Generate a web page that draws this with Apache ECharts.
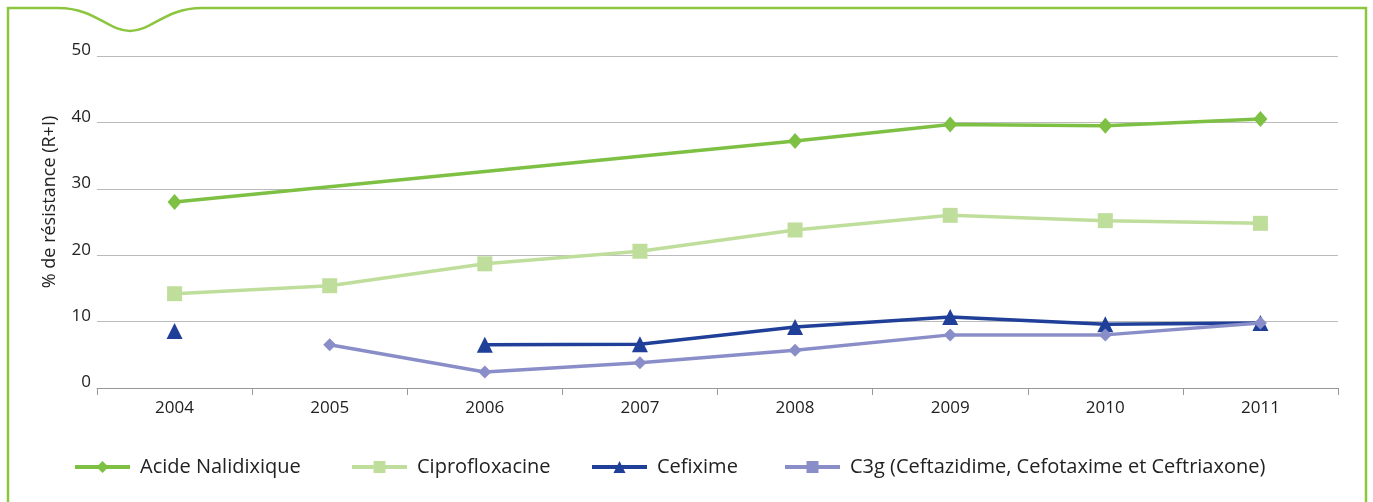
<!DOCTYPE html>
<html>
<head>
<meta charset="utf-8">
<script src="https://cdn.jsdelivr.net/npm/echarts@6/dist/echarts.min.js"></script>
<style>
html,body{margin:0;padding:0;background:#fff;}
#main{width:1373px;height:502px;}
</style>
</head>
<body>
<div id="main"></div>
<script>
var years = ['2004', '2005', '2006', '2007', '2008', '2009', '2010', '2011'];
var acideNalidixique = [28.0, null, null, null, 37.2, 39.7, 39.5, 40.5];
var ciprofloxacine = [14.2, 15.4, 18.7, 20.6, 23.8, 26.0, 25.2, 24.8];
var cefixime = [8.6, null, 6.5, 6.6, 9.2, 10.7, 9.6, 9.8];
var c3g = [null, 6.5, 2.4, 3.8, 5.7, 8.0, 8.0, 9.8];

var names = ['Acide Nalidixique', 'Ciprofloxacine', 'Cefixime', 'C3g (Ceftazidime, Cefotaxime et Ceftriaxone)'];
var legendLeft = [73, 350, 590, 783];

var dom = document.getElementById('main');
var myChart = echarts.init(dom);
var font = 'Open Sans';
var frameStyle = { fill: null, stroke: '#8cc63f', lineWidth: 2.5 };

// une legende par serie pour garder les positions
var legends = names.map(function (n, i) {
    return {
        left: legendLeft[i],
        top: 457,
        padding: 0,
        itemWidth: 55,
        itemHeight: 15,
        lineStyle: { width: 4 },
        textStyle: { fontSize: 20, color: '#222', fontFamily: font, padding: [0, 0, 0, 5] },
        data: [n]
    };
});

option = {
    animation: false,
    textStyle: { fontFamily: font },
    // cadre vert avec la vague en haut a gauche
    graphic: [
        { type: 'polyline', shape: { points: [[8, 520], [8, 8], [58, 8]] }, style: frameStyle },
        { type: 'bezierCurve', shape: { x1: 58, y1: 8, cpx1: 95, cpy1: 8, cpx2: 108, cpy2: 31, x2: 130, y2: 31 }, style: frameStyle },
        { type: 'bezierCurve', shape: { x1: 130, y1: 31, cpx1: 152, cpy1: 31, cpx2: 165, cpy2: 8, x2: 202, y2: 8 }, style: frameStyle },
        { type: 'polyline', shape: { points: [[202, 8], [1366, 8], [1366, 520]] }, style: frameStyle }
    ],
    grid: { left: 97, right: 35, top: 56, bottom: 114 },
    legend: legends,
    xAxis: {
        type: 'category',
        data: years,
        boundaryGap: true,
        axisLine: { lineStyle: { color: '#999' } },
        axisTick: { show: true, length: 7, lineStyle: { color: '#999' } },
        axisLabel: { color: '#222', fontSize: 17, margin: 12 }
    },
    yAxis: {
        type: 'value',
        min: 0,
        max: 50,
        interval: 10,
        name: '% de résistance (R+I)',
        nameLocation: 'middle',
        nameGap: 38,
        nameTextStyle: { fontSize: 18, color: '#222', padding: [0, 0, 0, 40] },
        axisLine: { show: false },
        axisTick: { show: false },
        axisLabel: { color: '#222', fontSize: 17, margin: 6, verticalAlign: 'bottom', lineHeight: 11 },
        splitLine: { lineStyle: { color: '#bbbbbb', width: 1.2 } }
    },
    series: [
        {
            name: names[0],
            type: 'line',
            data: acideNalidixique,
            connectNulls: true,
            symbol: 'diamond',
            symbolSize: [14, 16],
            color: '#7dc043',
            lineStyle: { width: 3.5 }
        },
        {
            name: names[1],
            type: 'line',
            data: ciprofloxacine,
            symbol: 'rect',
            symbolSize: 15,
            color: '#bfde9c',
            lineStyle: { width: 3.5 }
        },
        {
            name: names[2],
            type: 'line',
            data: cefixime,
            connectNulls: false,
            symbol: 'triangle',
            symbolSize: 16,
            color: '#1f3f98',
            lineStyle: { width: 3.5 }
        },
        {
            // carre dans la legende, losanges sur la courbe
            name: names[3],
            type: 'line',
            data: c3g.map(function (v) { return { value: v, symbol: 'diamond', symbolSize: 13 }; }),
            symbol: 'rect',
            symbolSize: 13,
            color: '#8a8ec8',
            lineStyle: { width: 3.5 }
        }
    ]
};

if (option && typeof option === "object") {
    myChart.setOption(option, true);
}
</script>
</body>
</html>
